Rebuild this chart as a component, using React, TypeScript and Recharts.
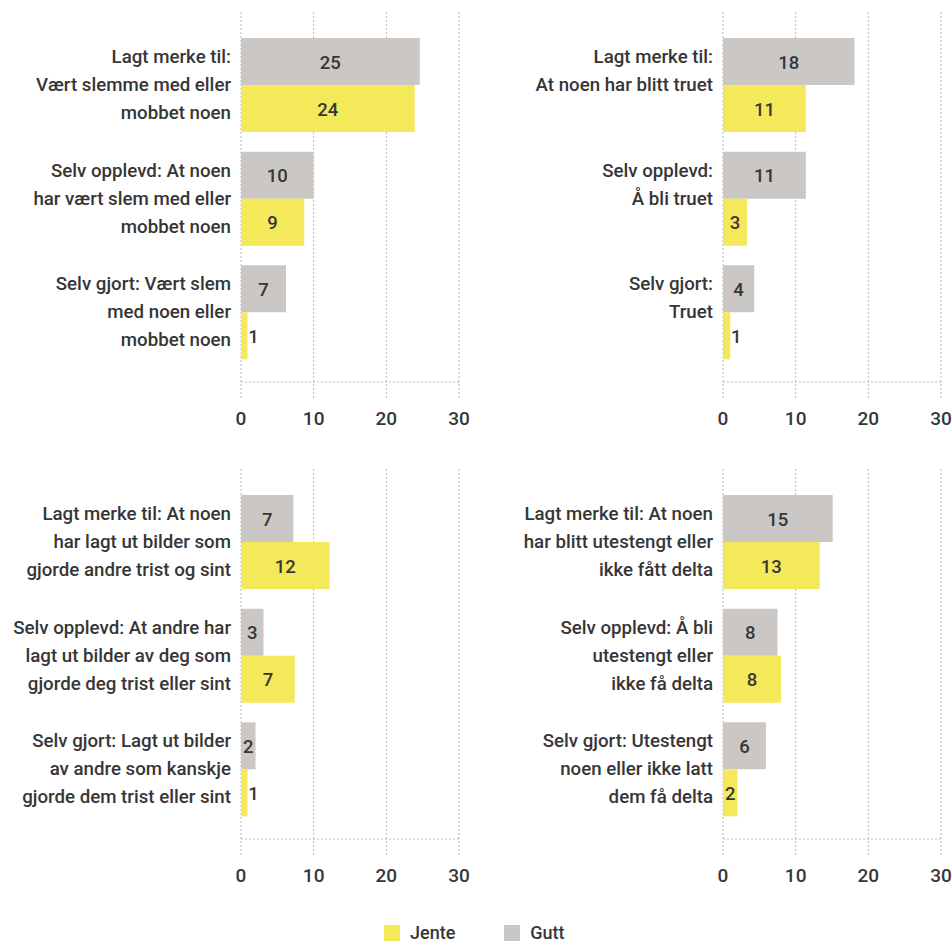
import React from 'react';
import { BarChart, Bar, XAxis, YAxis, CartesianGrid, LabelList } from 'recharts';

const FONT = "Roboto, 'Noto Sans', sans-serif";
const TEXT = '#363636';
const JENTE_COLOR = '#F3E95B';
const GUTT_COLOR = '#CBC7C4';
const GRID = '#b9b9b9';

// series names (legend order)
const seriesNames = ['Jente', 'Gutt'];
const xTicks = [0, 10, 20, 30];

// bar lengths are read off the picture; the printed numbers are kept apart
// because the source drew bars from unrounded figures

// panel 1: slem / mobbet
const mobbingLabels = [
  ['Lagt merke til:', 'Vært slemme med eller', 'mobbet noen'],
  ['Selv opplevd: At noen', 'har vært slem med eller', 'mobbet noen'],
  ['Selv gjort: Vært slem', 'med noen eller', 'mobbet noen'],
];
const mobbingGutt = [24.6, 10.0, 6.2];
const mobbingJente = [23.9, 8.7, 0.9];
const mobbingGuttText = [25, 10, 7];
const mobbingJenteText = [24, 9, 1];

// panel 2: truet
const truetLabels = [
  ['Lagt merke til:', 'At noen har blitt truet'],
  ['Selv opplevd:', 'Å bli truet'],
  ['Selv gjort:', 'Truet'],
];
const truetGutt = [18.1, 11.4, 4.3];
const truetJente = [11.4, 3.3, 1.0];
const truetGuttText = [18, 11, 4];
const truetJenteText = [11, 3, 1];

// panel 3: bilder
const bilderLabels = [
  ['Lagt merke til: At noen', 'har lagt ut bilder som', 'gjorde andre trist og sint'],
  ['Selv opplevd: At andre har', 'lagt ut bilder av deg som', 'gjorde deg trist eller sint'],
  ['Selv gjort: Lagt ut bilder', 'av andre som kanskje', 'gjorde dem trist eller sint'],
];
const bilderGutt = [7.2, 3.1, 2.0];
const bilderJente = [12.2, 7.4, 0.9];
const bilderGuttText = [7, 3, 2];
const bilderJenteText = [12, 7, 1];

// panel 4: utestengt
const utestengtLabels = [
  ['Lagt merke til: At noen', 'har blitt utestengt eller', 'ikke fått delta'],
  ['Selv opplevd: Å bli', 'utestengt eller', 'ikke få delta'],
  ['Selv gjort: Utestengt', 'noen eller ikke latt', 'dem få delta'],
];
const utestengtGutt = [15.1, 7.5, 5.9];
const utestengtJente = [13.3, 8.0, 2.0];
const utestengtGuttText = [15, 8, 6];
const utestengtJenteText = [13, 8, 2];

const buildRows = (labels: string[][], gutt: number[], jente: number[], guttText: number[], jenteText: number[]) =>
  labels.map((l, i) => ({
    name: l.join('\n'),
    Gutt: gutt[i],
    Jente: jente[i],
    guttText: guttText[i],
    jenteText: jenteText[i],
  }));

const CategoryTick = ({ x, y, payload }: any) => {
  const lines = String(payload.value).split('\n');
  return (
    <text x={x} y={y} textAnchor="end" fill={TEXT} fontSize={18.7} fontFamily={FONT} fontWeight={500}>
      {lines.map((line, i) => (
        <tspan key={i} x={x} y={y - 28 + i * 28 + 6}>
          {line}
        </tspan>
      ))}
    </text>
  );
};

const ValueLabel = ({ x, y, width, height, value }: any) => {
  // very short bars get the number just outside the bar
  const cx = width < 12 ? x + width + 6 : x + width / 2;
  return (
    <text
      x={cx}
      y={y + height / 2 + 7}
      textAnchor="middle"
      fill={TEXT}
      fontSize={18.5}
      fontFamily={FONT}
      fontWeight={500}
    >
      {value}
    </text>
  );
};

interface PanelProps {
  labels: string[][];
  gutt: number[];
  jente: number[];
  guttText: number[];
  jenteText: number[];
  left: number;
  top: number;
  width: number;
  axisWidth: number;
}

function Panel({ labels, gutt, jente, guttText, jenteText, left, top, width, axisWidth }: PanelProps) {
  const rows = buildRows(labels, gutt, jente, guttText, jenteText);
  return (
    <div style={{ position: 'absolute', left, top }}>
      <BarChart
        width={width}
        height={440}
        data={rows}
        layout="vertical"
        margin={{ top: 12, right: width - axisWidth - 218, left: 0, bottom: 0 }}
        barSize={47}
        barGap={0}
      >
        <CartesianGrid horizontal={false} stroke={GRID} strokeDasharray="2 2" />
        <XAxis
          type="number"
          domain={[0, 30]}
          ticks={xTicks}
          height={58}
          axisLine={{ stroke: GRID, strokeDasharray: '2 2' }}
          tickLine={{ stroke: GRID, strokeDasharray: '2 2' }}
          tickSize={16}
          tickMargin={14}
          tick={{ fill: TEXT, fontSize: 19, fontFamily: FONT, fontWeight: 500 }}
        />
        <YAxis
          type="category"
          dataKey="name"
          width={axisWidth}
          axisLine={false}
          tickLine={false}
          tickSize={0}
          tickMargin={10}
          padding={{ top: 16, bottom: 13 }}
          interval={0}
          tick={<CategoryTick />}
        />
        <Bar dataKey="Gutt" fill={GUTT_COLOR} isAnimationActive={false}>
          <LabelList dataKey="guttText" content={<ValueLabel />} />
        </Bar>
        <Bar dataKey="Jente" fill={JENTE_COLOR} isAnimationActive={false}>
          <LabelList dataKey="jenteText" content={<ValueLabel />} />
        </Bar>
      </BarChart>
    </div>
  );
}

export default function App() {
  const legendColors: Record<string, string> = { Jente: JENTE_COLOR, Gutt: GUTT_COLOR };
  return (
    <div
      style={{
        position: 'absolute',
        left: 0,
        top: 0,
        width: 952,
        height: 943,
        background: '#fff',
        overflow: 'hidden',
        fontFamily: FONT,
      }}
    >
      <Panel
        labels={mobbingLabels}
        gutt={mobbingGutt}
        jente={mobbingJente}
        guttText={mobbingGuttText}
        jenteText={mobbingJenteText}
        left={0}
        top={0}
        width={478}
        axisWidth={241}
      />
      <Panel
        labels={truetLabels}
        gutt={truetGutt}
        jente={truetJente}
        guttText={truetGuttText}
        jenteText={truetJenteText}
        left={480}
        top={0}
        width={472}
        axisWidth={243}
      />
      <Panel
        labels={bilderLabels}
        gutt={bilderGutt}
        jente={bilderJente}
        guttText={bilderGuttText}
        jenteText={bilderJenteText}
        left={0}
        top={457}
        width={478}
        axisWidth={241}
      />
      <Panel
        labels={utestengtLabels}
        gutt={utestengtGutt}
        jente={utestengtJente}
        guttText={utestengtGuttText}
        jenteText={utestengtJenteText}
        left={480}
        top={457}
        width={472}
        axisWidth={243}
      />
      <div style={{ position: 'absolute', left: 384, top: 922, display: 'flex', alignItems: 'center' }}>
        {seriesNames.map((s, i) => (
          <div key={s} style={{ display: 'flex', alignItems: 'center', marginRight: i === 0 ? 49 : 0 }}>
            <div style={{ width: 16, height: 16, background: legendColors[s], marginRight: 10 }} />
            <span style={{ fontSize: 18, color: TEXT, fontWeight: 500 }}>{s}</span>
          </div>
        ))}
      </div>
    </div>
  );
}
